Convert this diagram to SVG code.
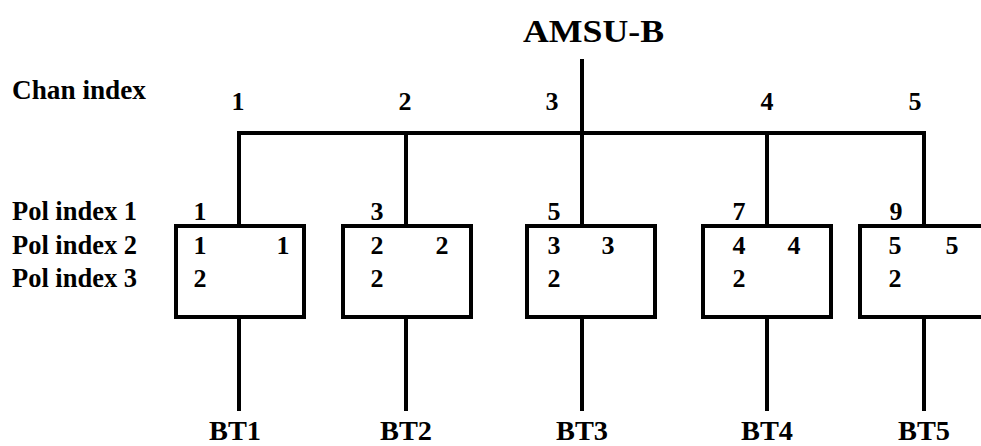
<svg xmlns="http://www.w3.org/2000/svg" width="981" height="446" viewBox="0 0 981 446">
<style>
text{font-family:"Liberation Serif","Times New Roman",serif;font-weight:bold;fill:#000}
.lbl{font-size:27px}
.d{font-size:26px;text-anchor:middle}
.bt{font-size:27px;text-anchor:middle}
.ln{stroke:#000;stroke-width:4;fill:none;stroke-linecap:square}
.box{stroke:#000;stroke-width:4;fill:#fff}
</style>
<rect width="981" height="446" fill="#fff"/>
<text x="523" y="42" style="font-size:31px" textLength="141" lengthAdjust="spacingAndGlyphs">AMSU-B</text>
<text class="lbl" x="12" y="99" textLength="134" lengthAdjust="spacingAndGlyphs">Chan index</text>
<text class="lbl" x="12" y="220" textLength="125" lengthAdjust="spacingAndGlyphs">Pol index 1</text>
<text class="lbl" x="12" y="254" textLength="125" lengthAdjust="spacingAndGlyphs">Pol index 2</text>
<text class="lbl" x="12" y="287" textLength="125" lengthAdjust="spacingAndGlyphs">Pol index 3</text>
<g id="chan">
<text class="d" x="238" y="110">1</text>
<text class="d" x="405" y="110">2</text>
<text class="d" x="552" y="110">3</text>
<text class="d" x="767" y="110">4</text>
<text class="d" x="915" y="110">5</text>
</g>
<g id="connectors">
<path class="ln" d="M582 61 V226"/>
<path class="ln" d="M239 133 H924"/>
<path class="ln" d="M239 133 V226 M406 133 V226 M767 133 V226 M924 133 V226"/>
<path class="ln" d="M239 317 V409 M406 317 V409 M582 317 V409 M767 317 V409 M924 317 V409"/>
</g>
<g id="bt1">
<rect class="box" x="176" y="226" width="128" height="91"/>
<text class="d" x="200" y="220">1</text>
<text class="d" x="200" y="254">1</text>
<text class="d" x="283" y="254">1</text>
<text class="d" x="200" y="287">2</text>
<text class="bt" x="235" y="440" textLength="52" lengthAdjust="spacingAndGlyphs">BT1</text>
</g>
<g id="bt2">
<rect class="box" x="343" y="226" width="128" height="91"/>
<text class="d" x="377" y="220">3</text>
<text class="d" x="377" y="254">2</text>
<text class="d" x="442" y="254">2</text>
<text class="d" x="377" y="287">2</text>
<text class="bt" x="406" y="440" textLength="52" lengthAdjust="spacingAndGlyphs">BT2</text>
</g>
<g id="bt3">
<rect class="box" x="527" y="226" width="128" height="91"/>
<text class="d" x="554" y="220">5</text>
<text class="d" x="554" y="254">3</text>
<text class="d" x="608" y="254">3</text>
<text class="d" x="554" y="287">2</text>
<text class="bt" x="582" y="440" textLength="52" lengthAdjust="spacingAndGlyphs">BT3</text>
</g>
<g id="bt4">
<rect class="box" x="703" y="226" width="128" height="91"/>
<text class="d" x="739" y="220">7</text>
<text class="d" x="739" y="254">4</text>
<text class="d" x="794" y="254">4</text>
<text class="d" x="739" y="287">2</text>
<text class="bt" x="767" y="440" textLength="52" lengthAdjust="spacingAndGlyphs">BT4</text>
</g>
<g id="bt5">
<rect class="box" x="860" y="226" width="140" height="91"/>
<text class="d" x="896" y="220">9</text>
<text class="d" x="895" y="254">5</text>
<text class="d" x="952" y="254">5</text>
<text class="d" x="895" y="287">2</text>
<text class="bt" x="924" y="440" textLength="52" lengthAdjust="spacingAndGlyphs">BT5</text>
</g>
</svg>
